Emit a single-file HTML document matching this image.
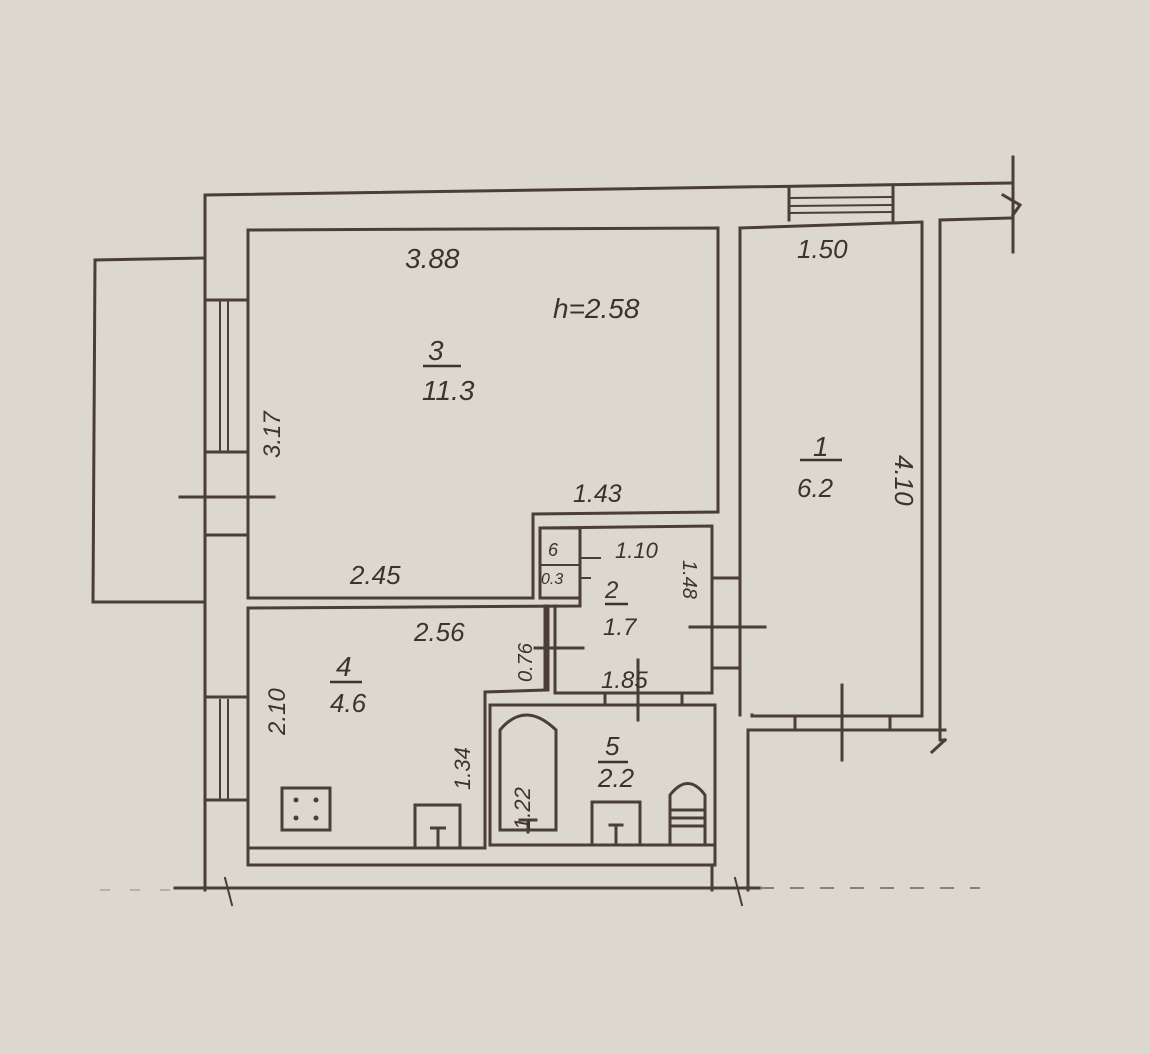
<!DOCTYPE html>
<html><head><meta charset="utf-8"><style>
html,body{margin:0;padding:0;background:#dcd8d0;}
svg{display:block}
text{font-family:"Liberation Sans",sans-serif;fill:#3d332d;font-style:italic}
</style></head><body>
<svg width="1150" height="1054" viewBox="0 0 1150 1054" xmlns="http://www.w3.org/2000/svg">
<rect width="1150" height="1054" fill="#dcd8d0"/>
<g stroke="#4a3e36" stroke-width="3" fill="none" stroke-linecap="square">
<!-- outer top wall -->
<polyline points="205,890 205,195 1010,183"/>
<!-- top right outer segment -->
<polyline points="1010,218 940,220 940,740 945,740"/>
<line x1="1013" y1="157" x2="1013" y2="252"/>
<path d="M1003,195 L1020,205 L1013,215"/>
<!-- window top room1 -->
<line x1="789" y1="188" x2="789" y2="220"/><line x1="893" y1="187" x2="893" y2="220"/>
<line x1="789" y1="198" x2="893" y2="197" stroke-width="2"/>
<line x1="789" y1="206" x2="893" y2="205" stroke-width="2"/>
<line x1="789" y1="213" x2="893" y2="212" stroke-width="2"/>
<!-- balcony -->
<polyline points="205,258 95,260 93,602 205,602"/>
<!-- left wall inner -->
<line x1="248" y1="230" x2="248" y2="598"/>
<line x1="248" y1="608" x2="248" y2="848"/>
<!-- left wall windows -->
<line x1="205" y1="300" x2="248" y2="300"/><line x1="205" y1="452" x2="248" y2="452"/>
<line x1="220" y1="302" x2="220" y2="450" stroke-width="2"/><line x1="228" y1="302" x2="228" y2="450" stroke-width="2"/>
<line x1="205" y1="535" x2="248" y2="535"/>
<line x1="180" y1="497" x2="274" y2="497"/>
<line x1="205" y1="697" x2="248" y2="697"/><line x1="205" y1="800" x2="248" y2="800"/>
<line x1="220" y1="700" x2="220" y2="798" stroke-width="2"/><line x1="228" y1="700" x2="228" y2="798" stroke-width="2"/>
<!-- room3 -->
<polyline points="248,230 718,228 718,512 533,514 533,598 248,598"/>
<!-- room6/2 block -->
<polyline points="540,528 712,526 712,693"/>
<rect x="540" y="528" width="40" height="70"/>
<line x1="540" y1="565" x2="580" y2="565" stroke-width="2"/>
<line x1="580" y1="558" x2="600" y2="558" stroke-width="2"/>
<line x1="580" y1="578" x2="590" y2="578" stroke-width="2"/>
<polyline points="248,608 580,606 580,598"/>
<line x1="555" y1="606" x2="555" y2="693"/>
<line x1="548" y1="606" x2="548" y2="690"/>
<line x1="535" y1="648" x2="583" y2="648"/>
<!-- room4 -->
<polyline points="545,606 545,690 485,692 485,848"/>
<line x1="248" y1="848" x2="485" y2="848"/>
<!-- room2 bottom -->
<line x1="555" y1="693" x2="712" y2="693"/>
<line x1="605" y1="693" x2="605" y2="703"/><line x1="682" y1="693" x2="682" y2="703"/>
<line x1="638" y1="660" x2="638" y2="720"/>
<!-- room5 -->
<polyline points="490,705 715,705 715,845 490,845 490,705"/>
<path d="M500,830 L500,730 Q525,700 556,730 L556,830 Z"/>
<line x1="520" y1="820" x2="536" y2="820"/><line x1="528" y1="820" x2="528" y2="832"/>
<path d="M592,843 L592,802 L640,802 L640,843"/><line x1="610" y1="825" x2="622" y2="825"/><line x1="616" y1="825" x2="616" y2="843"/>
<path d="M670,843 L670,795 Q688,772 705,795 L705,843"/>
<line x1="670" y1="810" x2="705" y2="810"/><line x1="670" y1="818" x2="705" y2="818"/><line x1="670" y1="826" x2="705" y2="826"/>
<!-- vertical wall between 2 and 1 -->
<line x1="740" y1="228" x2="740" y2="715"/>
<line x1="712" y1="578" x2="740" y2="578"/><line x1="712" y1="668" x2="740" y2="668"/>
<line x1="690" y1="627" x2="765" y2="627"/>
<!-- room1 -->
<polyline points="740,228 922,222 922,716 752,716 752,715"/>
<line x1="748" y1="730" x2="748" y2="890"/>
<line x1="748" y1="730" x2="945" y2="730"/>
<path d="M945,740 L932,752"/>
<line x1="795" y1="716" x2="795" y2="730"/><line x1="890" y1="716" x2="890" y2="730"/>
<line x1="842" y1="685" x2="842" y2="760"/>
<!-- bottom walls -->
<polyline points="248,848 248,865 712,865 712,890"/>
<line x1="715" y1="845" x2="715" y2="865"/>
<line x1="175" y1="888" x2="760" y2="888"/>
<line x1="225" y1="878" x2="232" y2="905" stroke-width="2"/>
<line x1="735" y1="878" x2="742" y2="905" stroke-width="2"/>
</g>
<line x1="760" y1="888" x2="980" y2="888" stroke="#8a8078" stroke-width="2" stroke-dasharray="14,16"/>
<line x1="100" y1="890" x2="175" y2="890" stroke="#b8b0a8" stroke-width="2" stroke-dasharray="10,20"/>
<g stroke="#3d332d" stroke-width="2.5">
<line x1="423" y1="366" x2="461" y2="366"/>
<line x1="330" y1="682" x2="362" y2="682"/>
<line x1="605" y1="604" x2="628" y2="604"/>
<line x1="598" y1="762" x2="628" y2="762"/>
<line x1="800" y1="460" x2="842" y2="460"/>
</g>
<g font-size="28">
<text x="405" y="268">3.88</text>
<text x="553" y="318">h=2.58</text>
<text x="428" y="360">3</text>
<text x="422" y="400">11.3</text>
<text x="573" y="502" font-size="25">1.43</text>
<text x="350" y="584" font-size="26">2.45</text>
<text x="414" y="641" font-size="26">2.56</text>
<text x="336" y="676">4</text>
<text x="330" y="712" font-size="26">4.6</text>
<text x="797" y="258" font-size="26">1.50</text>
<text x="813" y="456">1</text>
<text x="797" y="497" font-size="26">6.2</text>
<text x="605" y="598" font-size="24">2</text>
<text x="603" y="635" font-size="24">1.7</text>
<text x="601" y="688" font-size="24">1.85</text>
<text x="615" y="558" font-size="22">1.10</text>
<text x="548" y="556" font-size="18">6</text>
<text x="541" y="584" font-size="16">0.3</text>
<text x="605" y="755" font-size="26">5</text>
<text x="598" y="787" font-size="26">2.2</text>
</g>
<g font-size="24">
<text transform="translate(280,458) rotate(-90)">3.17</text>
<text transform="translate(285,735) rotate(-90)">2.10</text>
<text transform="translate(895,455) rotate(90)" font-size="26">4.10</text>
<text transform="translate(470,790) rotate(-90)" font-size="22">1.34</text>
<text transform="translate(532,682) rotate(-90)" font-size="20">0.76</text>
<text transform="translate(530,830) rotate(-90)" font-size="22">1.22</text>
<text transform="translate(683,560) rotate(90)" font-size="20">1.48</text>
</g>
<!-- stove -->
<rect x="282" y="788" width="48" height="42" fill="none" stroke="#4a3e36" stroke-width="3"/>
<g fill="#4a3e36"><circle cx="296" cy="800" r="2.5"/><circle cx="316" cy="800" r="2.5"/><circle cx="296" cy="818" r="2.5"/><circle cx="316" cy="818" r="2.5"/></g>
<path d="M415,848 L415,805 L460,805 L460,848 M430,828 L446,828 M438,828 L438,848" fill="none" stroke="#4a3e36" stroke-width="3"/>
</svg>
</body></html>
